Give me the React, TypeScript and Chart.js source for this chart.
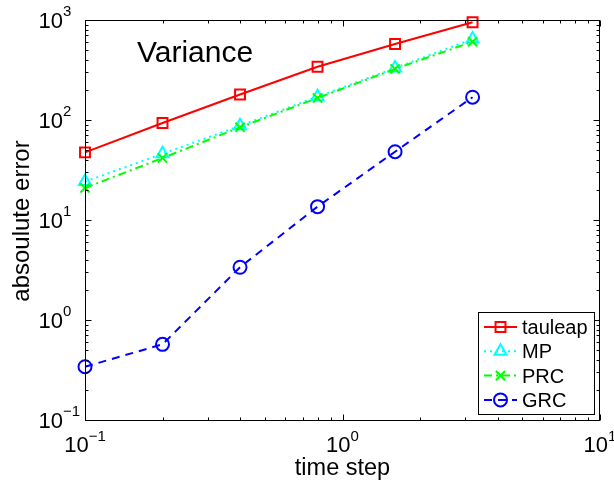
import React, { useEffect, useRef } from "react";
import { Chart, registerables } from "chart.js";

Chart.register(...registerables);

// ---- data ----
const timeSteps = [0.1, 0.2, 0.4, 0.8, 1.6, 3.2];
const tauleapErr = [47.5, 93.3, 180, 341, 575, 948];
const mpErr = [24.2, 45.9, 87.5, 171, 331, 646];
const prcErr = [20.9, 41.7, 84.5, 166, 324, 607];
const grcErr = [0.341, 0.571, 3.37, 13.6, 48.2, 169];

const seriesNames = ["tauleap", "MP", "PRC", "GRC"];
const xTickExps = [-1, 0, 1];
const yTickExps = [-1, 0, 1, 2, 3];
const titleText = "Variance";
const xAxisTitle = "time step";
const yAxisTitle = "absoulute error";

const FONT = '"Liberation Sans", Arial, Helvetica, sans-serif';

type Style = {
  color: string;
  dash: number[];
  marker: string;
  radius: number;
};

const styles: Style[] = [
  { color: "#ff0000", dash: [], marker: "rect", radius: 7 },
  { color: "#00ffff", dash: [2, 4], marker: "triangle", radius: 7 },
  { color: "#00ff00", dash: [8, 4, 2, 4], marker: "crossRot", radius: 6.5 },
  { color: "#0000ff", dash: [8, 6], marker: "circle", radius: 6.5 },
];

function drawMarker(ctx: CanvasRenderingContext2D, kind: string, x: number, y: number, r: number) {
  ctx.beginPath();
  if (kind === "rect") {
    const s = Math.SQRT1_2 * r;
    ctx.rect(x - s, y - s, 2 * s, 2 * s);
  } else if (kind === "circle") {
    ctx.arc(x, y, r, 0, Math.PI * 2);
  } else if (kind === "triangle") {
    let a = 0;
    ctx.moveTo(x + Math.sin(a) * r, y - Math.cos(a) * r);
    a += (2 * Math.PI) / 3;
    ctx.lineTo(x + Math.sin(a) * r, y - Math.cos(a) * r);
    a += (2 * Math.PI) / 3;
    ctx.lineTo(x + Math.sin(a) * r, y - Math.cos(a) * r);
    ctx.closePath();
  } else if (kind === "crossRot") {
    const o = Math.SQRT1_2 * r;
    ctx.moveTo(x - o, y - o);
    ctx.lineTo(x + o, y + o);
    ctx.moveTo(x - o, y + o);
    ctx.lineTo(x + o, y - o);
  }
  ctx.stroke();
}

function logTicks(min: number, max: number) {
  const out: { v: number; major: boolean }[] = [];
  for (let e = Math.floor(Math.log10(min)); e <= Math.ceil(Math.log10(max)); e++) {
    for (let k = 1; k < 10; k++) {
      const v = k * Math.pow(10, e);
      if (v >= min * 0.9999 && v <= max * 1.0001) out.push({ v, major: k === 1 });
    }
  }
  return out;
}

function expText(e: number) {
  return e < 0 ? "\u2212" + String(-e) : String(e);
}

const decorPlugin = {
  id: "matlabDecor",
  afterDraw(chart: any) {
    const ctx: CanvasRenderingContext2D = chart.ctx;
    const { left, top, right, bottom } = chart.chartArea;
    const xs = chart.scales.x;
    const ys = chart.scales.y;
    ctx.save();
    ctx.strokeStyle = "#000";
    ctx.fillStyle = "#000";
    ctx.lineWidth = 1;
    ctx.setLineDash([]);

    const L = Math.round(left) + 0.5;
    const T = Math.round(top) + 0.5;
    const R = Math.round(right) - 0.5;
    const B = Math.round(bottom) + 0.5;
    ctx.strokeRect(L, T, R - L, B - T);

    // ticks
    ctx.beginPath();
    for (const t of logTicks(xs.min, xs.max)) {
      const px = Math.round(xs.getPixelForValue(t.v)) + 0.5;
      const len = t.major ? 6 : 3;
      ctx.moveTo(px, B);
      ctx.lineTo(px, B - len);
      ctx.moveTo(px, T);
      ctx.lineTo(px, T + len);
    }
    for (const t of logTicks(ys.min, ys.max)) {
      const py = Math.round(ys.getPixelForValue(t.v)) + 0.5;
      const len = t.major ? 6 : 3;
      ctx.moveTo(L, py);
      ctx.lineTo(L + len, py);
      ctx.moveTo(R, py);
      ctx.lineTo(R - len, py);
    }
    ctx.stroke();

    // tick labels
    const baseFont = "22px " + FONT;
    const expFont = "15px " + FONT;
    ctx.textBaseline = "alphabetic";
    ctx.textAlign = "left";
    for (const e of xTickExps) {
      const px = xs.getPixelForValue(Math.pow(10, e));
      ctx.font = baseFont;
      const wb = ctx.measureText("10").width;
      ctx.font = expFont;
      const we = ctx.measureText(expText(e)).width;
      const start = px - (wb + we) / 2;
      ctx.font = baseFont;
      ctx.fillText("10", start, bottom + 32);
      ctx.font = expFont;
      ctx.fillText(expText(e), start + wb, bottom + 21);
    }
    for (const e of yTickExps) {
      const py = ys.getPixelForValue(Math.pow(10, e));
      ctx.font = baseFont;
      const wb = ctx.measureText("10").width;
      const endX = left - 22;
      ctx.fillText("10", endX - wb, py + 8);
      ctx.font = expFont;
      ctx.fillText(expText(e), endX, py - 4);
    }

    // title inside plot
    ctx.font = "30px " + FONT;
    ctx.fillText(titleText, left + 52, top + 42);

    // axis titles
    ctx.font = "23.5px " + FONT;
    ctx.textAlign = "center";
    ctx.fillText(xAxisTitle, (left + right) / 2, bottom + 55);
    ctx.save();
    ctx.translate(29, (top + bottom) / 2 + 1);
    ctx.rotate(-Math.PI / 2);
    ctx.font = "24px " + FONT;
    ctx.fillText(yAxisTitle, 0, 0);
    ctx.restore();

    // legend
    const lx = right - 122;
    const ly = bottom - 108;
    const lw = 116;
    const lh = 102;
    ctx.fillStyle = "#fff";
    ctx.fillRect(Math.round(lx) + 0.5, Math.round(ly) + 0.5, lw, lh);
    ctx.strokeStyle = "#000";
    ctx.lineWidth = 1;
    ctx.strokeRect(Math.round(lx) + 0.5, Math.round(ly) + 0.5, lw, lh);
    ctx.font = "20px " + FONT;
    ctx.textAlign = "left";
    seriesNames.forEach((name, i) => {
      const st = styles[i];
      const cy = ly + 15 + 24.3 * i;
      ctx.strokeStyle = st.color;
      ctx.lineWidth = 2;
      ctx.setLineDash(st.dash);
      ctx.beginPath();
      ctx.moveTo(lx + 6, cy);
      ctx.lineTo(lx + 39, cy);
      ctx.stroke();
      ctx.setLineDash([]);
      drawMarker(ctx, st.marker, lx + 22.5, cy, st.radius);
      ctx.fillStyle = "#000";
      ctx.fillText(name, lx + 44, cy + 7);
    });
    ctx.restore();
  },
};

export default function App() {
  const canvasRef = useRef<HTMLCanvasElement | null>(null);

  useEffect(() => {
    const canvas = canvasRef.current;
    if (!canvas) return;
    const seriesValues = [tauleapErr, mpErr, prcErr, grcErr];
    const datasets = seriesNames.map((name, i) => {
      const st = styles[i];
      return {
        label: name,
        data: timeSteps.map((t, j) => ({ x: t, y: seriesValues[i][j] })),
        borderColor: st.color,
        backgroundColor: "transparent",
        borderWidth: 2,
        borderDash: st.dash,
        pointStyle: st.marker,
        pointRadius: st.radius,
        pointHoverRadius: st.radius,
        pointBorderWidth: 2,
        pointBorderColor: st.color,
        pointBackgroundColor: "transparent",
        tension: 0,
        fill: false,
        clip: false,
        order: seriesNames.length - i,
      };
    });
    const chart = new Chart(canvas, {
      type: "line",
      data: { datasets } as any,
      options: {
        animation: false,
        responsive: false,
        devicePixelRatio: 1,
        layout: { padding: { left: 85, top: 20, right: 14, bottom: 66 } },
        plugins: { legend: { display: false }, tooltip: { enabled: false }, title: { display: false } },
        events: [],
        scales: {
          x: { type: "logarithmic", min: 0.1, max: 10, display: false },
          y: { type: "logarithmic", min: 0.1, max: 1000, display: false },
        },
      } as any,
      plugins: [decorPlugin],
    });
    return () => chart.destroy();
  }, []);

  return (
    <div style={{ position: "fixed", left: 0, top: 0, width: 614, height: 486, background: "#fff" }}>
      <canvas ref={canvasRef} width={614} height={486} style={{ width: 614, height: 486, display: "block" }} />
    </div>
  );
}
